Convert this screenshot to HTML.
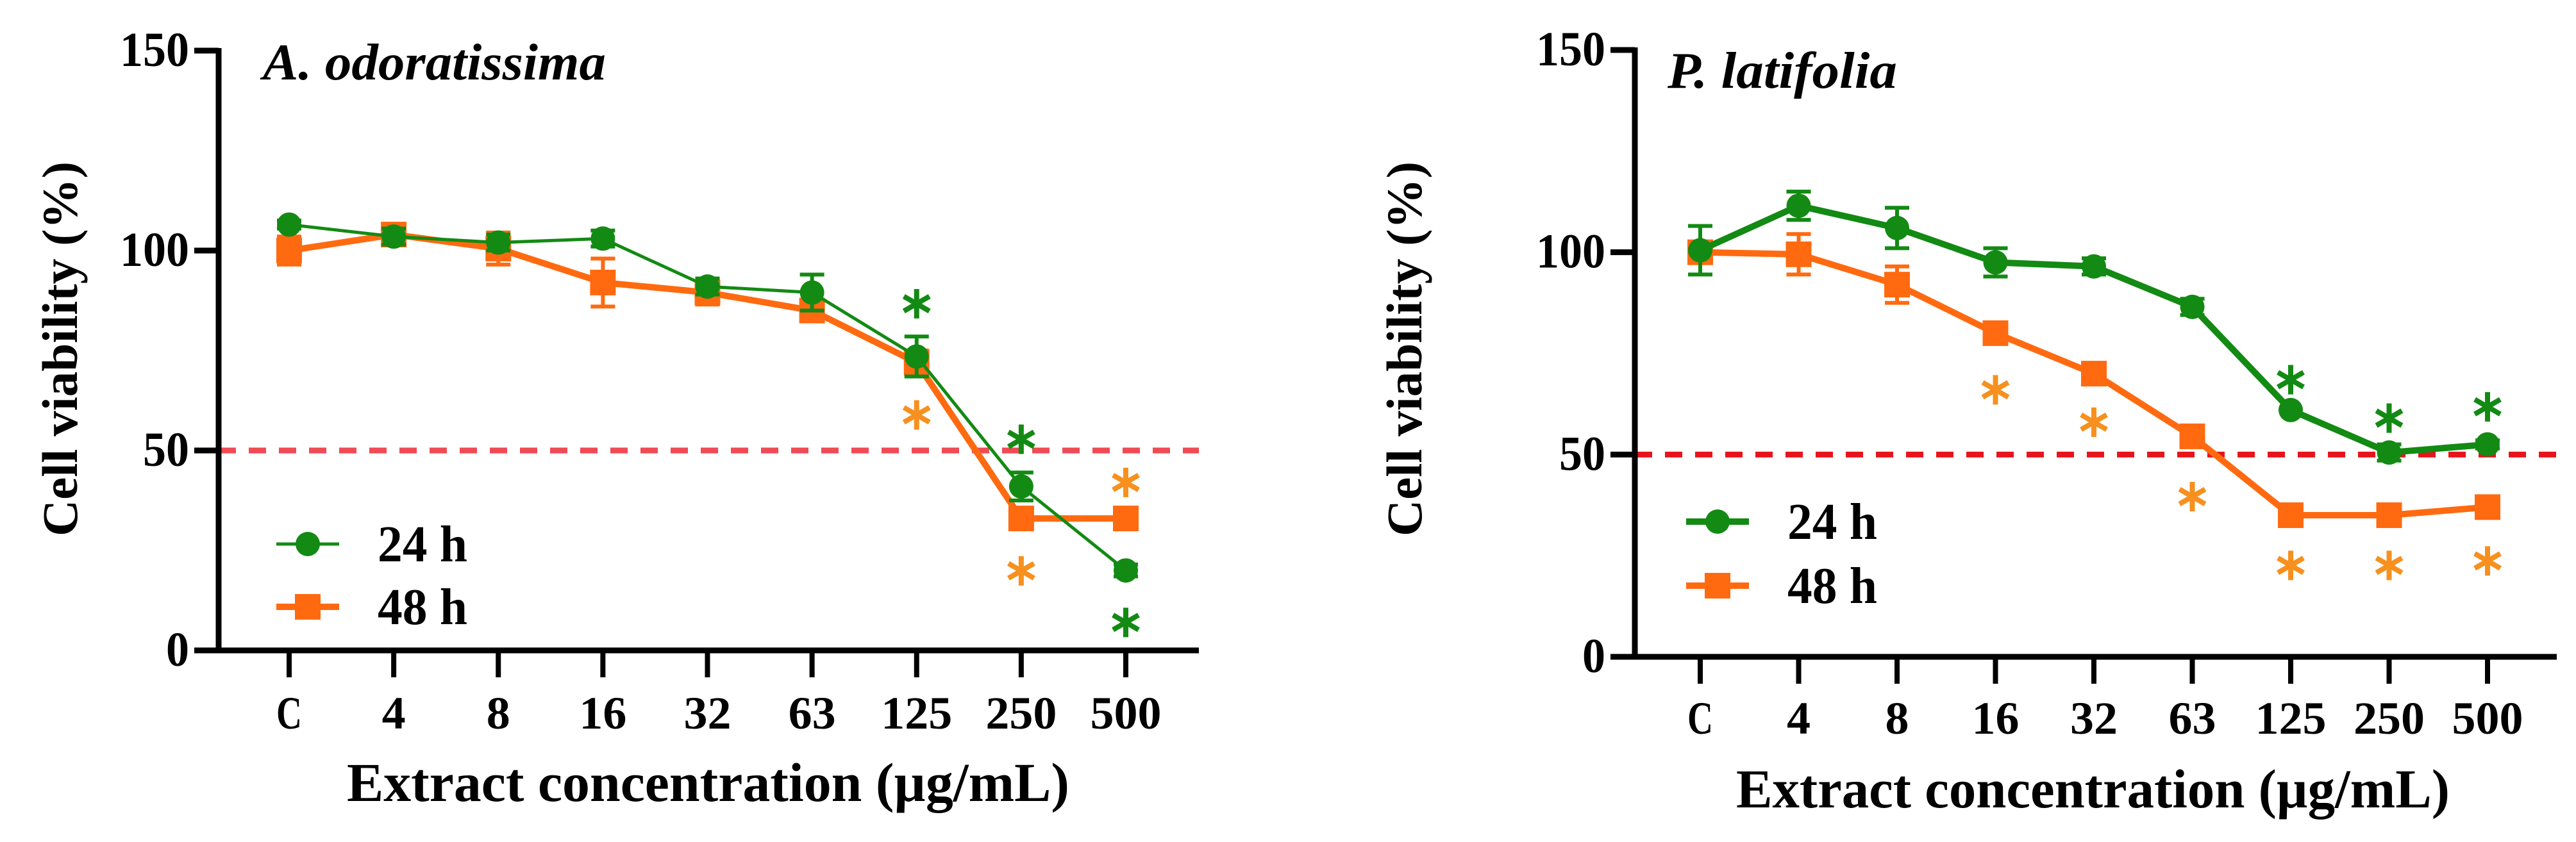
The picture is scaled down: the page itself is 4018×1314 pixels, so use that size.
<!DOCTYPE html>
<html><head><meta charset="utf-8"><style>
html,body{margin:0;padding:0;background:#fff;width:4018px;height:1314px;overflow:hidden}
svg{display:block}
text{font-family:"Liberation Serif",serif;font-weight:bold}
</style></head><body>
<svg id="fig" width="4018" height="1314" viewBox="0 0 4018 1314" xmlns="http://www.w3.org/2000/svg"></svg>
<script>
const categories = ["C","4","8","16","32","63","125","250","500"];
const yTicks = [0,50,100,150];
const aoMean24 = [106.5,103.5,102,103,91,89.5,73.5,41,20];
const aoErr24  = [1,2,2,2,2,4.5,5,3.5,1.5];
const aoMean48 = [100,104,100.5,92,89.5,85,72,33,33];
const aoErr48  = [3.5,2,4,6,3,2.5,3,0,0];
const aoStar24 = [null,null,null,null,null,null,86.7,52.8,7];
const aoStar48 = [null,null,null,null,null,null,58.9,19.9,42];
const plMean24 = [100.5,111.5,106,97.5,96.5,86.5,61,50.5,52.5];
const plErr24  = [6,3.5,5,3.5,2,2,0,2,1];
const plMean48 = [100,99.5,92,80,70,54.5,35,35,37];
const plErr48  = [1,5,4.5,1,0,0,0,0,0];
const plStar24 = [null,null,null,null,null,null,68.5,59,61.8];
const plStar48 = [null,null,null,66,58,39.6,22.6,22.6,23.7];
const refLine = 50;

const NS="http://www.w3.org/2000/svg";
const svg=document.getElementById('fig');
const G="#138a13", O="#ff6a10", OS="#f7901e";
function el(tag,attrs,parent){const e=document.createElementNS(NS,tag);for(const k in attrs)e.setAttribute(k,attrs[k]);(parent||svg).appendChild(e);return e;}

function panel(cfg){
  const g=el('g',{});
  
  
  const X=i=>cfg.x0+(cfg.x1-cfg.x0)*i/(categories.length-1);
  const Y=v=>cfg.y0-(cfg.y0-cfg.y150)*v/150;
  const rl=el('line',{x1:cfg.ax,x2:cfg.axEnd,y1:Y(refLine),y2:Y(refLine),stroke:cfg.refColor,'stroke-width':9,'stroke-dasharray':'27 20'},g);
  
  
  const ya=el('line',{x1:cfg.ax,x2:cfg.ax,y1:Y(150)-4,y2:Y(0)+4,stroke:'#000','stroke-width':9},g);
  
  
  const xa=el('line',{x1:cfg.ax-4,x2:cfg.axEnd,y1:Y(0),y2:Y(0),stroke:'#000','stroke-width':9},g);
  
  
  yTicks.forEach(t=>{
    el('line',{x1:cfg.ax-38,x2:cfg.ax,y1:Y(t),y2:Y(t),stroke:'#000','stroke-width':9},g);
    const s=String(t);
    const tx=el('text',{x:cfg.ax-46,y:Y(t)+24,'text-anchor':'end','font-size':76,textLength:36*s.length,lengthAdjust:'spacingAndGlyphs'},g);
    tx.textContent=t;
    
    
  });
  categories.forEach((c,i)=>{
    el('line',{x1:X(i),x2:X(i),y1:Y(0),y2:Y(0)+42,stroke:'#000','stroke-width':8},g);
    const tx=el('text',{x:X(i),y:cfg.tickBase,'text-anchor':'middle','font-size':72,textLength:(c==='C'?40:37*c.length),lengthAdjust:'spacingAndGlyphs'},g);
    tx.textContent=c;
    
    
  });
  const xt=el('text',{x:cfg.xtX,y:cfg.xtBase,'font-size':86,textLength:cfg.xtW,lengthAdjust:'spacingAndGlyphs'},g);
  xt.textContent=cfg.xtitle;
  
  
  const yt=el('text',{x:0,y:0,'font-size':78,textLength:585,lengthAdjust:'spacingAndGlyphs',transform:`translate(${cfg.ytX},837) rotate(-90)`},g);
  yt.textContent='Cell viability (%)';
  
  
  const pt=el('text',{x:cfg.ptX,y:cfg.ptBase,'font-size':80,'font-style':'italic',textLength:cfg.ptW,lengthAdjust:'spacingAndGlyphs'},g);
  pt.textContent=cfg.title;
  
  
  function series(mean,err,color,w,shape,nm){
    const sg=el('g',{},g);
    
    
    mean.forEach((v,i)=>{ if(err[i]>0){
      el('line',{x1:X(i),x2:X(i),y1:Y(v+err[i]),y2:Y(v-err[i]),stroke:color,'stroke-width':6},sg);
      el('line',{x1:X(i)-19,x2:X(i)+19,y1:Y(v+err[i]),y2:Y(v+err[i]),stroke:color,'stroke-width':6},sg);
      el('line',{x1:X(i)-19,x2:X(i)+19,y1:Y(v-err[i]),y2:Y(v-err[i]),stroke:color,'stroke-width':6},sg);
    }});
    el('polyline',{points:mean.map((v,i)=>X(i)+','+Y(v)).join(' '),fill:'none',stroke:color,'stroke-width':w,'stroke-linejoin':'round'},sg);
    mean.forEach((v,i)=>{
      let m;
      if(shape==='c') m=el('circle',{cx:X(i),cy:Y(v),r:19,fill:color},sg);
      else m=el('rect',{x:X(i)-20,y:Y(v)-20,width:40,height:40,fill:color},sg);
      
      
    });
  }
  series(cfg.m48,cfg.e48,O,cfg.w48,'s','series-48h');
  series(cfg.m24,cfg.e24,G,cfg.w24,'c','series-24h');
  function stars(arr,color){
    arr.forEach((v,i)=>{ if(v===null)return;
      const s=el('g',{transform:`translate(${X(i)},${Y(v)})`},g);
      
      
      [90,30,-30].forEach(a=>{const r=a*Math.PI/180;
        el('line',{x1:-23*Math.cos(r),y1:-23*Math.sin(r),x2:23*Math.cos(r),y2:23*Math.sin(r),stroke:color,'stroke-width':8},s);});
    });
  }
  stars(cfg.s24,G); stars(cfg.s48,OS);
  const lg=el('g',{},g);
  
  
  [[cfg.leg24,G,'c','24 h',cfg.w24],[cfg.leg48,O,'s','48 h',cfg.w48]].forEach(([ly,col,sh,lab,w])=>{
    const e=el('g',{},lg);
    
    
    el('line',{x1:cfg.legX,x2:cfg.legX+98,y1:ly,y2:ly,stroke:col,'stroke-width':w},e);
    const cx=cfg.legX+49;
    if(sh==='c') el('circle',{cx:cx,cy:ly,r:19,fill:col},e); else el('rect',{x:cx-20,y:ly-20,width:40,height:40,fill:col},e);
    const t=el('text',{x:cfg.legX+158,y:ly+27,'font-size':80,textLength:140,lengthAdjust:'spacingAndGlyphs'},e);
    t.textContent=lab;
  });
}
panel({name:'panel-a-odoratissima',ax:341,axEnd:1870,y0:1015,y150:79,x0:451,x1:1756,tickBase:1137,
  xtitle:'Extract concentration  (\u00b5g/mL)',xtX:541,xtW:1127,xtBase:1250,ytX:120,
  title:'A. odoratissima',ptX:410,ptBase:124,ptW:535,refColor:'#f04a55',
  m24:aoMean24,e24:aoErr24,m48:aoMean48,e48:aoErr48,s24:aoStar24,s48:aoStar48,w24:5,w48:10,
  legX:431,leg24:849,leg48:947});
panel({name:'panel-p-latifolia',ax:2550,axEnd:3988,y0:1025,y150:78,x0:2652,x1:3880,tickBase:1145,
  xtitle:'Extract concentration (\u00b5g/mL)',xtX:2708,xtW:1113,xtBase:1260,ytX:2217,
  title:'P. latifolia',ptX:2601,ptBase:137,ptW:358,refColor:'#e8141c',
  m24:plMean24,e24:plErr24,m48:plMean48,e48:plErr48,s24:plStar24,s48:plStar48,w24:10,w48:10,
  legX:2630,leg24:814,leg48:914});
</script>
</body></html>
